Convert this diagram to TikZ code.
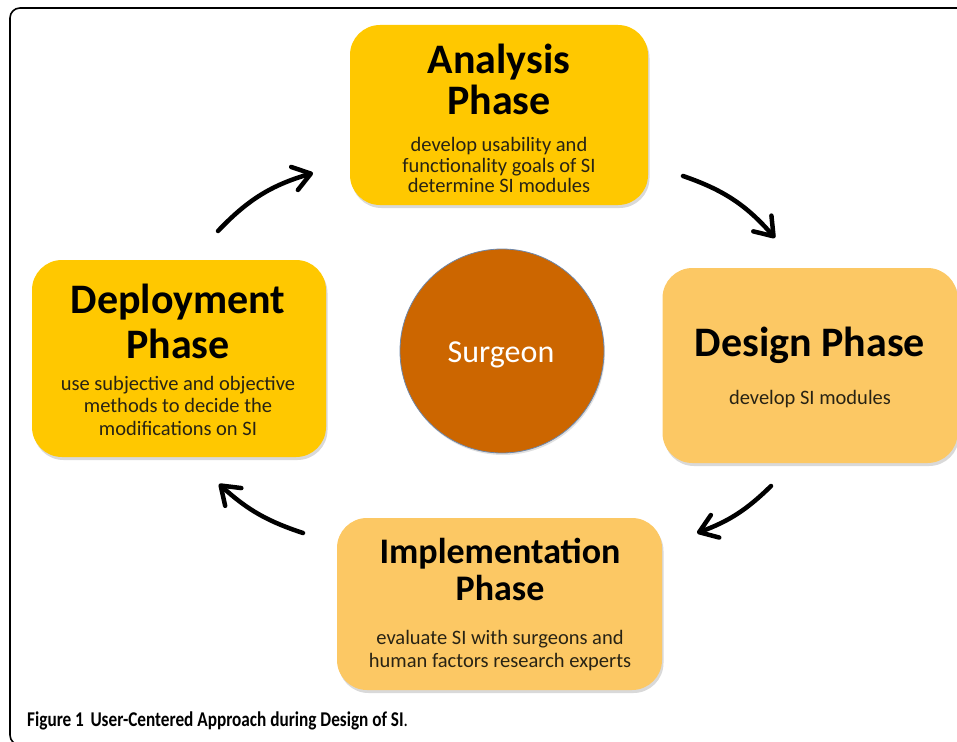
\documentclass[tikz,border=0pt]{standalone}
\usepackage{fontspec}
\setmainfont{Carlito}
\usepackage{graphicx}
\usetikzlibrary{arrows.meta,shadows}
\definecolor{gold}{RGB}{255,200,0}
\definecolor{lightor}{RGB}{252,200,100}
\definecolor{surg}{RGB}{204,102,0}
\definecolor{ringc}{RGB}{110,135,170}
\definecolor{bodytxt}{RGB}{40,35,20}
\begin{document}
\begin{tikzpicture}[x=1pt,y=-1pt,
  phase/.style={rectangle, rounded corners=30pt, inner sep=0,
    drop shadow={shadow xshift=1.5pt, shadow yshift=-3pt, opacity=0.25, fill=black!60}},
  head/.style={anchor=base, inner sep=0, font=\fontsize{42}{42}\selectfont\bfseries},
  headsm/.style={anchor=base, inner sep=0, font=\fontsize{36}{36}\selectfont\bfseries},
  body/.style={anchor=base, inner sep=0, text=bodytxt, font=\fontsize{20.5}{22}\selectfont},
  flow/.style={line width=4.5pt, line cap=round, -{Straight Barb[length=17pt,width=24pt,round]}},
]
\useasboundingbox (0,0) rectangle (957,741);
\begin{scope}
\clip (0,0) rectangle (957,741);
\draw[line width=1.6pt, rounded corners=10pt] (10,8) rectangle (990,745);
\end{scope}

% boxes
\node[phase, fill=gold, minimum width=298pt, minimum height=180pt] (ana) at (499,115) {};
\node[phase, fill=lightor, minimum width=295pt, minimum height=195pt] (des) at (810,365.5) {};
\node[phase, fill=lightor, minimum width=325pt, minimum height=172pt] (imp) at (499.5,604) {};
\node[phase, fill=gold, minimum width=294pt, minimum height=197pt] (dep) at (179,358.5) {};
\node[circle, fill=surg, draw=ringc, line width=0.8pt, minimum size=204pt, inner sep=0,
  drop shadow={shadow xshift=1pt, shadow yshift=-2pt, opacity=0.2, fill=black!60}] (sur) at (502,351) {};

% texts
\node[head] (anaH1) at (499,74) {Analysis};
\node[head] (anaH2) at (499,114) {Phase};
\node[body] (anaB1) at (499,151) {develop usability and};
\node[body] (anaB2) at (499,172) {functionality goals of SI};
\node[body] (anaB3) at (499,192) {determine SI modules};

\node[head] (desH1) at (810,356) {Design Phase};
\node[body] (desB1) at (810,404) {develop SI modules};

\node[headsm] (impH1) at (500,563) {Implementation};
\node[headsm] (impH2) at (500,600) {Phase};
\node[body] (impB1) at (500,644) {evaluate SI with surgeons and};
\node[body] (impB2) at (500,667) {human factors research experts};

\node[head] (depH1) at (178,313) {Deployment};
\node[head] (depH2) at (178,358) {Phase};
\node[body] (depB1) at (178,390) {use subjective and objective};
\node[body] (depB2) at (178,412) {methods to decide the};
\node[body] (depB3) at (178,435) {modifications on SI};

\node[anchor=base, inner sep=0, text=white, font=\fontsize{32}{32}\selectfont] (surT) at (501,362) {Surgeon};

% arrows
\coordinate (a1s) at (218,231);
\coordinate (a1e) at (313,173);
\coordinate (a2s) at (683,176);
\coordinate (a2e) at (775,238);
\coordinate (a3s) at (771,486);
\coordinate (a3e) at (697,533);
\coordinate (a4s) at (303,533);
\coordinate (a4e) at (219,484);
\draw[flow] (a1s) to[bend left=15] (a1e);
\draw[flow] (a2s) to[bend left=15] (a2e);
\draw[flow] (a3s) to[bend left=12] (a3e);
\draw[flow] (a4s) to[bend left=12] (a4e);

% caption
\node[anchor=base west, inner sep=0, font=\fontsize{21}{21}\selectfont] (cap) at (27,726)
  {\scalebox{0.82}[1]{\textbf{Figure 1}\hspace{8pt}\textbf{User-Centered Approach during Design of SI}.}};
\end{tikzpicture}
\end{document}
